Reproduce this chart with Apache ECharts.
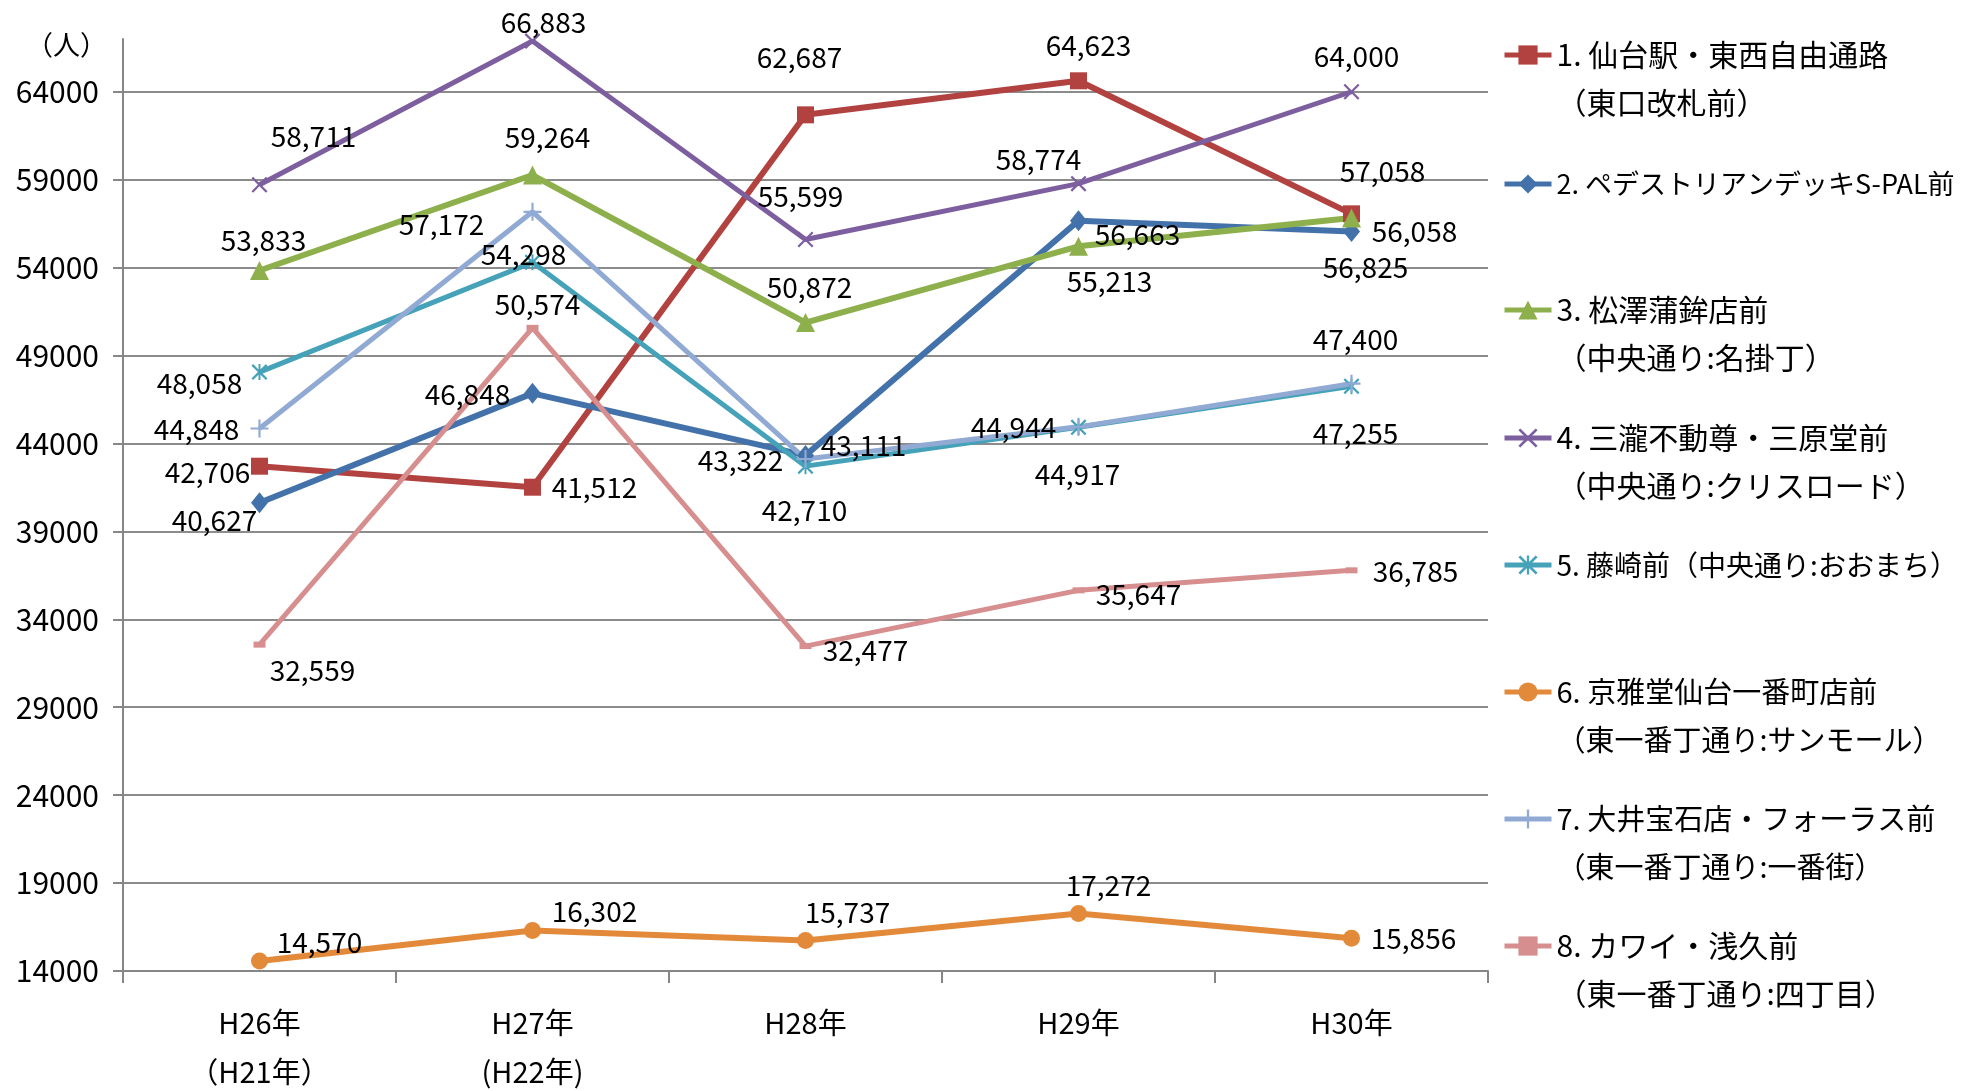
<!DOCTYPE html>
<html>
<head>
<meta charset="utf-8">
<script src="https://cdn.jsdelivr.net/npm/echarts@6/dist/echarts.min.js"></script>
<style>
  html, body { margin: 0; padding: 0; background: #fff; }
  #chart { width: 1973px; height: 1091px; }
</style>
</head>
<body>
<div id="chart"></div>
<script>
// 年次カテゴリ
var categories = ['H26年\n（H21年）', 'H27年\n(H22年)', 'H28年', 'H29年', 'H30年'];

var seriesNames = [
  '1. 仙台駅・東西自由通路\n（東口改札前）',
  '2. ペデストリアンデッキS-PAL前',
  '3. 松澤蒲鉾店前\n（中央通り:名掛丁）',
  '4. 三瀧不動尊・三原堂前\n（中央通り:クリスロード）',
  '5. 藤崎前（中央通り:おおまち）',
  '6. 京雅堂仙台一番町店前\n（東一番丁通り:サンモール）',
  '7. 大井宝石店・フォーラス前\n（東一番丁通り:一番街）',
  '8. カワイ・浅久前\n（東一番丁通り:四丁目）'
];

// 歩行者通行量（人）
var sendaiSta = [42706, 41512, 62687, 64623, 57058];
var pedDeck   = [40627, 46848, 43322, 56663, 56058];
var matsuzawa = [53833, 59264, 50872, 55213, 56825];
var mitaki    = [58711, 66883, 55599, 58774, 64000];
var fujisaki  = [48058, 54298, 42710, 44917, 47255];
var kyogado   = [14570, 16302, 15737, 17272, 15856];
var oi        = [44848, 57172, 43111, 44944, 47400];
var kawai     = [32559, 50574, 32477, 35647, 36785];
var allValues = [sendaiSta, pedDeck, matsuzawa, mitaki, fujisaki, kyogado, oi, kawai];

var colors = ['#B2423F', '#4372AA', '#8DB04C', '#7D5FA0', '#45A2B9', '#E38A3A', '#91AAD4', '#D68E8F'];

var X_PATH = 'path://M0,1L1,0L5,4L9,0L10,1L6,5L10,9L9,10L5,6L1,10L0,9L4,5Z';
var STAR_PATH = X_PATH + 'M4.4,0L5.6,0L5.6,10L4.4,10Z';
var PLUS_PATH = 'path://M4.4,0L5.6,0L5.6,4.4L10,4.4L10,5.6L5.6,5.6L5.6,10L4.4,10L4.4,5.6L0,5.6L0,4.4L4.4,4.4Z';
var DASH_PATH = 'path://M0,0L10,0L10,4L0,4Z';

var symbols = ['rect', 'diamond', 'triangle', X_PATH, STAR_PATH, 'circle', PLUS_PATH, DASH_PATH];
var symbolSizes = [17, [17, 21], 19, 16, 16, 17, 18, [12, 6]];
var lineWidths = [6, 6, 6, 5, 5, 6, 5, 5];

// ラベルの位置ずれ（点の中心から）
var labelOffsets = [
  [[-52, 6], [62, 0], [-6, -57], [10, -35], [31, -42]],
  [[-45, 18], [-65, 1], [-65, 5], [59, 14], [63, 0]],
  [[4, -30], [15, -38], [4, -35], [31, 35], [14, 49]],
  [[54, -48], [11, -19], [-5, -43], [-40, -24], [5, -35]],
  [[-60, 11], [-9, -8], [-1, 44], [-1, 47], [4, 47]],
  [[60, -19], [62, -19], [42, -28], [30, -28], [62, 0]],
  [[-63, 1], [-91, 13], [58, -14], [-65, 1], [4, -44]],
  [[53, 26], [5, -23], [60, 4], [60, 4], [64, 1]]
];

// 凡例の一行目の中心 y
var legendCenters = [55, 184, 310, 438, 565, 692, 819, 946];
var legendFontSizes = [30, 27, 30, 30, 28, 29, 29, 30];

var FONT = '"Noto Sans CJK JP", sans-serif';

var series = allValues.map(function (vals, i) {
  return {
    name: seriesNames[i],
    type: 'line',
    data: vals.map(function (v, j) {
      return { value: v, label: { offset: labelOffsets[i][j] } };
    }),
    symbol: symbols[i],
    symbolSize: symbolSizes[i],
    lineStyle: { width: lineWidths[i], color: colors[i] },
    itemStyle: { color: colors[i] },
    label: {
      show: true,
      position: 'inside',
      color: '#000',
      fontSize: 28,
      fontFamily: FONT,
      formatter: function (p) { return echarts.format.addCommas(p.value); }
    },
    emphasis: { disabled: true }
  };
});

// 2行の凡例は空行を先頭に足して、1行目をアイコンの高さにそろえる
var legends = seriesNames.map(function (name, i) {
  var twoLine = name.indexOf('\n') >= 0;
  return {
    data: [name],
    orient: 'vertical',
    left: 1502,
    top: legendCenters[i] - (twoLine ? 72 : 24),
    padding: 0,
    itemWidth: 47,
    itemHeight: 24,
    selectedMode: false,
    lineStyle: { width: 5 },
    formatter: function (n) { return twoLine ? ' \n' + n : n; },
    textStyle: {
      color: '#000',
      fontSize: legendFontSizes[i],
      lineHeight: 48,
      fontFamily: FONT
    }
  };
});

var chart = echarts.init(document.getElementById('chart'));
chart.setOption({
  animation: false,
  backgroundColor: '#fff',
  grid: { left: 123, right: 485, top: 39, bottom: 120, containLabel: false, outerBoundsMode: 'none' },
  legend: legends,
  graphic: [{
    type: 'text', left: 26, top: 31,
    style: { text: '（人）', fontSize: 27, fontFamily: FONT, fill: '#000' }
  }],
  xAxis: {
    type: 'category',
    data: categories,
    boundaryGap: true,
    axisLine: { lineStyle: { color: '#868686', width: 2 } },
    axisTick: { show: true, length: 12, lineStyle: { color: '#868686', width: 2 } },
    axisLabel: { color: '#000', fontSize: 29, lineHeight: 49, margin: 27, fontFamily: FONT }
  },
  yAxis: {
    type: 'value',
    min: 14000,
    max: 67000,
    interval: 5000,
    axisLine: { show: true, lineStyle: { color: '#868686', width: 2 } },
    axisTick: { show: true, length: 10, lineStyle: { color: '#868686', width: 2 } },
    splitLine: { show: true, showMaxLine: false, lineStyle: { color: '#8C8C8C', width: 2 } },
    axisLabel: {
      color: '#000', fontSize: 30, margin: 24, fontFamily: FONT, showMaxLabel: false,
      formatter: function (v) { return String(v); }
    }
  },
  series: series
});
</script>
</body>
</html>
